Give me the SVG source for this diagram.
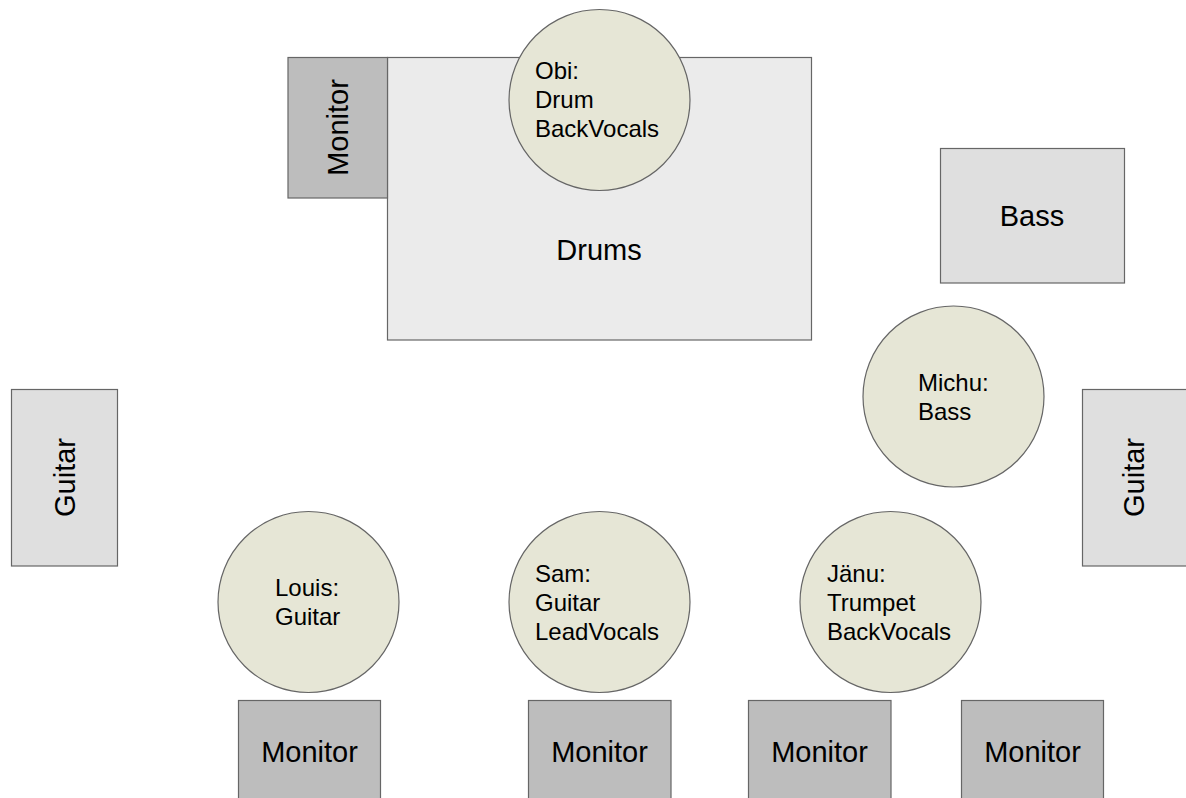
<svg xmlns="http://www.w3.org/2000/svg" width="1186" height="798" viewBox="0 0 1186 798">
<style>
.box{stroke:#666;stroke-width:1.2}
.drums{fill:#ebebeb}
.inst{fill:#dfdfdf}
.mon{fill:#bdbdbd}
.p{fill:#e6e6d6;stroke:#666;stroke-width:1.2}
text{font-family:"Liberation Sans",Arial,sans-serif;fill:#000}
.lbl{font-size:29px;text-anchor:middle}
.pt{font-size:24px}
</style>
<rect width="1186" height="798" fill="#fff"/>
<g id="drums"><rect class="box drums" x="387.5" y="57.5" width="424" height="282.5"/><text class="lbl" x="599" y="260">Drums</text></g>
<g id="monitor-drums"><rect class="box mon" x="288" y="57.5" width="99.5" height="140.5"/><text class="lbl" transform="translate(348,127.5) rotate(-90)">Monitor</text></g>
<g id="obi"><circle class="p" cx="599.5" cy="100" r="90.5"/><text class="pt" x="535"><tspan x="535" y="79">Obi:</tspan><tspan x="535" y="108">Drum</tspan><tspan x="535" y="137">BackVocals</tspan></text></g>
<g id="bass"><rect class="box inst" x="940.5" y="148.5" width="184" height="134.5"/><text class="lbl" x="1032" y="226">Bass</text></g>
<g id="michu"><circle class="p" cx="953.5" cy="396.5" r="90.5"/><text class="pt"><tspan x="918" y="391">Michu:</tspan><tspan x="918" y="420">Bass</tspan></text></g>
<g id="guitar-left"><rect class="box inst" x="11.5" y="389.5" width="106" height="176.5"/><text class="lbl" transform="translate(74.5,477.5) rotate(-90)">Guitar</text></g>
<g id="guitar-right"><rect class="box inst" x="1082.5" y="389.5" width="110" height="176.5"/><text class="lbl" transform="translate(1144,477.5) rotate(-90)">Guitar</text></g>
<g id="louis"><circle class="p" cx="308.5" cy="602" r="90.5"/><text class="pt"><tspan x="275" y="596">Louis:</tspan><tspan x="275" y="625">Guitar</tspan></text></g>
<g id="sam"><circle class="p" cx="599.5" cy="602" r="90.5"/><text class="pt"><tspan x="535" y="582">Sam:</tspan><tspan x="535" y="611">Guitar</tspan><tspan x="535" y="640">LeadVocals</tspan></text></g>
<g id="janu"><circle class="p" cx="890.5" cy="602" r="90.5"/><text class="pt"><tspan x="827" y="582">Jänu:</tspan><tspan x="827" y="611">Trumpet</tspan><tspan x="827" y="640">BackVocals</tspan></text></g>
<g id="monitor-1"><rect class="box mon" x="238.5" y="700.5" width="142" height="110"/><text class="lbl" x="309.5" y="762">Monitor</text></g>
<g id="monitor-2"><rect class="box mon" x="528.5" y="700.5" width="142.5" height="110"/><text class="lbl" x="599.5" y="762">Monitor</text></g>
<g id="monitor-3"><rect class="box mon" x="748.5" y="700.5" width="142.5" height="110"/><text class="lbl" x="819.5" y="762">Monitor</text></g>
<g id="monitor-4"><rect class="box mon" x="961.5" y="700.5" width="142" height="110"/><text class="lbl" x="1032.5" y="762">Monitor</text></g>
<g id="connectors"></g>
</svg>
